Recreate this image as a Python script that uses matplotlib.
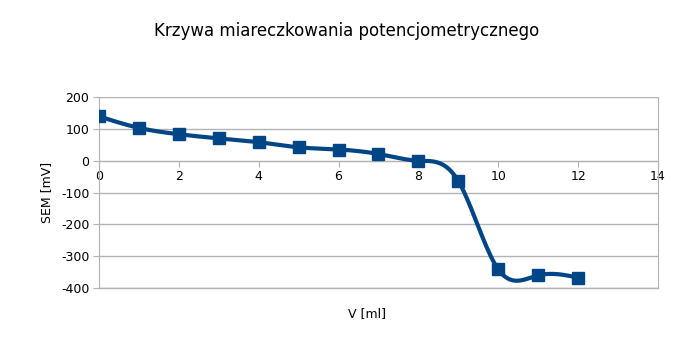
import numpy as np
import matplotlib
matplotlib.use("Agg")
import matplotlib.pyplot as plt

volume_ml = [0, 1, 2, 3, 4, 5, 6, 7, 8, 9, 10, 11, 12]
sem_mv = [139, 103, 83, 70, 58, 42, 35, 21, 0, -64, -341, -360, -367]

TITLE = "Krzywa miareczkowania potencjometrycznego"
XLABEL = "V [ml]"
YLABEL = "SEM [mV]"
_BLUE = "#004586"
_GRID = "#b3b3b3"

plt.rcParams["axes.unicode_minus"] = False


def natural_spline(x, y, n=400):
    # natural cubic spline, like the "smooth line" option in office charts
    x = np.asarray(x, float)
    y = np.asarray(y, float)
    k = len(x)
    h = np.diff(x)
    A = np.zeros((k, k))
    b = np.zeros(k)
    A[0, 0] = A[-1, -1] = 1
    for i in range(1, k - 1):
        A[i, i - 1] = h[i - 1]
        A[i, i] = 2 * (h[i - 1] + h[i])
        A[i, i + 1] = h[i]
        b[i] = 6 * ((y[i + 1] - y[i]) / h[i] - (y[i] - y[i - 1]) / h[i - 1])
    m = np.linalg.solve(A, b)
    xs = np.linspace(x[0], x[-1], n)
    idx = np.clip(np.searchsorted(x, xs) - 1, 0, k - 2)
    x0, x1 = x[idx], x[idx + 1]
    hh = x1 - x0
    t0, t1 = x1 - xs, xs - x0
    ys = (m[idx] * t0 ** 3 / (6 * hh) + m[idx + 1] * t1 ** 3 / (6 * hh)
          + (y[idx] / hh - m[idx] * hh / 6) * t0
          + (y[idx + 1] / hh - m[idx + 1] * hh / 6) * t1)
    return xs, ys


fig = plt.figure(figsize=(6.94, 3.39), dpi=100)
ax = fig.add_axes([0.1427, 0.150, 0.948 - 0.1427, 0.714 - 0.150])

xs, ys = natural_spline(volume_ml, sem_mv)
ax.plot(xs, ys, color=_BLUE, lw=3.0, solid_capstyle="round", zorder=3)
ax.plot(volume_ml, sem_mv, ls="none", marker="s", ms=8, color=_BLUE, zorder=4)

ax.set_xlim(0, 14)
ax.set_ylim(-400, 200)
ax.set_xticks(range(0, 15, 2))
ax.set_yticks(range(-400, 201, 100))
ax.grid(axis="y", color=_GRID, lw=1)
ax.set_axisbelow(True)

for side in ["left", "right", "bottom", "top"]:
    ax.spines[side].set_color(_GRID)
ax.spines["top"].set_visible(False)
ax.spines["bottom"].set_position(("data", 0))

# frame line at the bottom of the plot area, since the x axis sits at 0
ax.plot([0, 1], [0, 0], transform=ax.transAxes, color=_GRID, lw=1,
        clip_on=False, zorder=1)

ax.tick_params(axis="both", colors=_GRID, labelcolor="black", labelsize=9,
               length=4)
ax.tick_params(axis="y", direction="out", pad=3)
ax.tick_params(axis="x", direction="out", pad=3)

ax.set_xlabel(XLABEL, fontsize=9)
ax.xaxis.set_label_coords(0.48, -0.10)
ax.set_ylabel(YLABEL, fontsize=9, labelpad=6)
fig.suptitle(TITLE, fontsize=12, y=0.935)

fig.savefig("out.png", dpi=100)
